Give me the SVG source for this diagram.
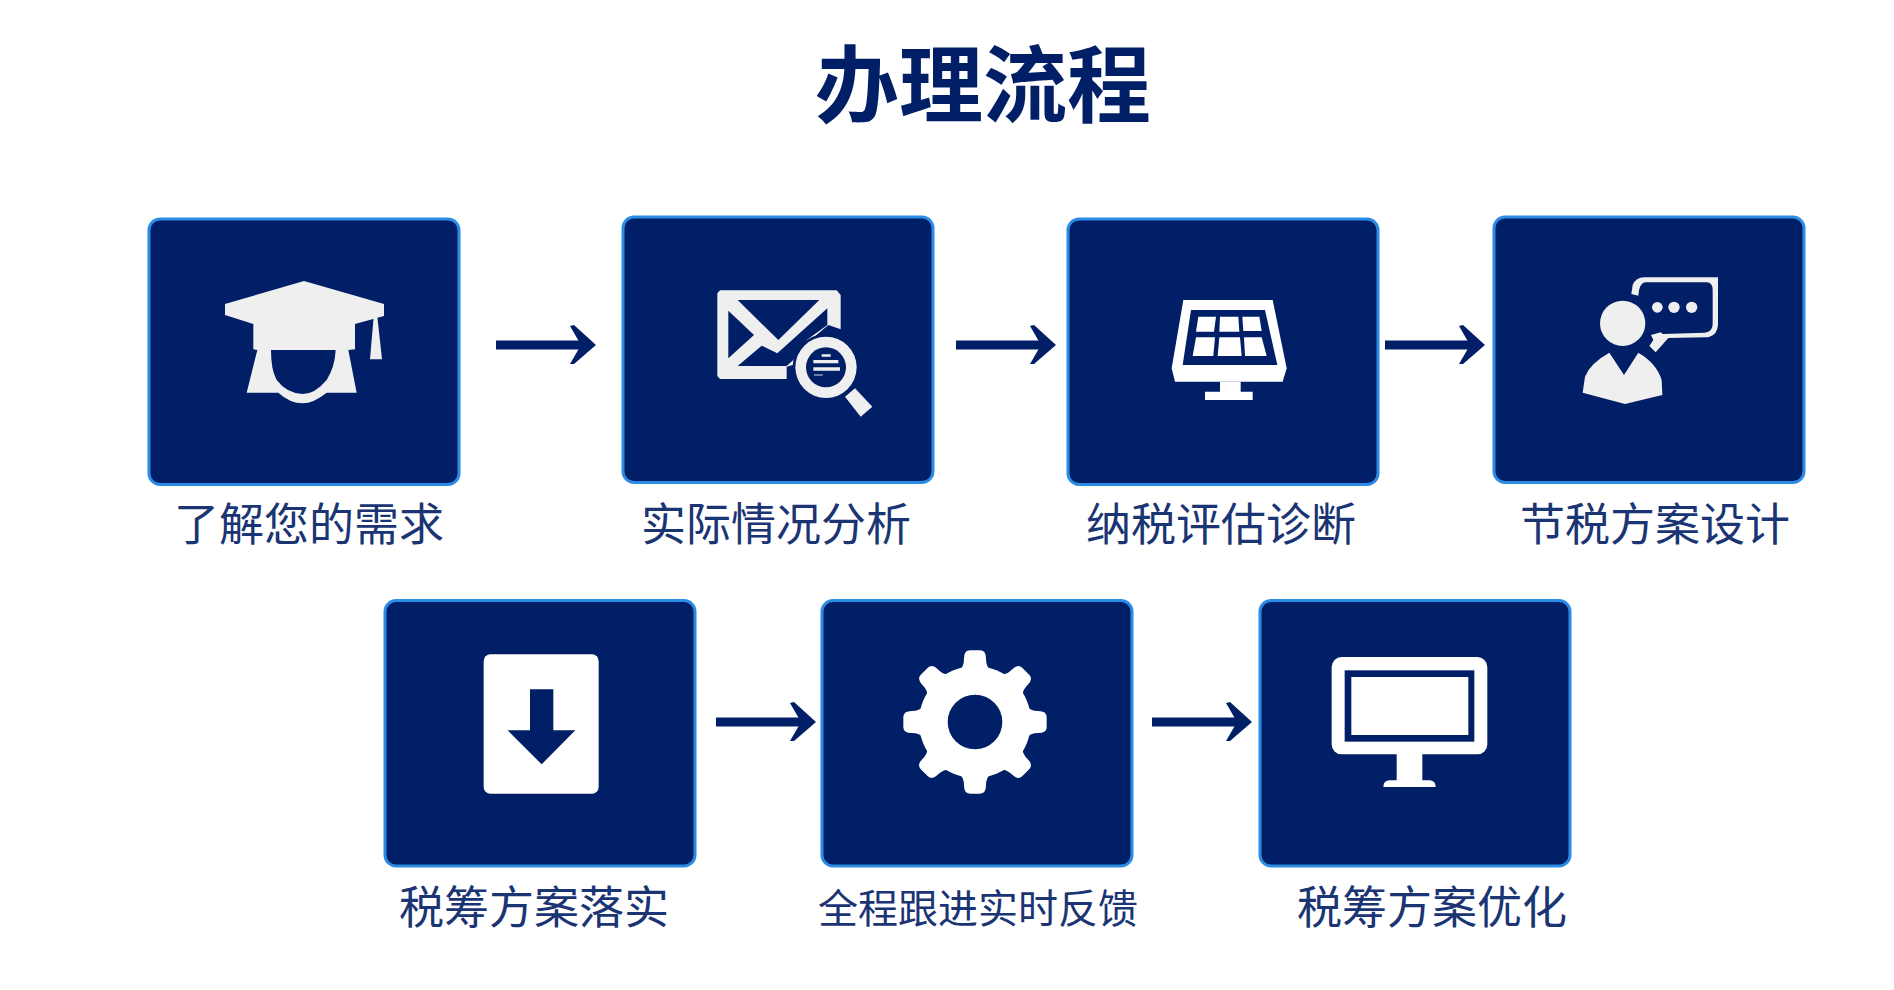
<svg xmlns="http://www.w3.org/2000/svg" width="1894" height="990" viewBox="0 0 1894 990">
<style>
.box{fill:#011f66;stroke:#2b8ce6;stroke-width:3}
.lab{font-family:"Noto Sans CJK SC","Noto Sans",sans-serif;font-size:45px;font-weight:400;fill:#1a3474;text-anchor:middle}
.title{font-family:"Noto Sans CJK SC","Noto Sans",sans-serif;font-size:84px;font-weight:700;fill:#011f66;text-anchor:middle}
.g{fill:#efefef}
.w{fill:#fff}
.n{fill:#011f66}
.conn{stroke:#011f66;stroke-width:9;fill:none;marker-end:url(#arrow)}
</style>
<defs>
<marker id="arrow" markerUnits="userSpaceOnUse" markerWidth="32" markerHeight="44" viewBox="0 0 32 44" refX="20" refY="22" orient="auto">
<path d="M4,3L8,2L30,22L8,41L4,41L15,22Z" fill="#011f66"/>
</marker>
<path id="tooth" d="M-48,-155Q-33,-165 -33,-190Q-33,-215 -15,-215H15Q33,-215 33,-190Q33,-165 48,-155Z" fill="#fff"/>
</defs>
<rect width="1894" height="990" fill="#fff"/>
<text class="title" x="983" y="116">办理流程</text>
<g id="connectors">
<line class="conn" x1="496" y1="345" x2="586" y2="345"/>
<line class="conn" x1="956" y1="345" x2="1046" y2="345"/>
<line class="conn" x1="1385" y1="345" x2="1475" y2="345"/>
<line class="conn" x1="716" y1="722" x2="806" y2="722"/>
<line class="conn" x1="1152" y1="722" x2="1242" y2="722"/>
</g>
<g id="node1">
<rect class="box" x="149" y="219" width="310" height="265.500" rx="11"/>
<g transform="translate(140 200) scale(.33333)">
<path class="g" d="M255,312L492,243L732,312V348L645,372V448L625,450L650,578H560Q520,610 488,610Q450,610 415,578H320L352,450L340,448V372L255,345Z"/>
<path class="n" d="M393,450H587Q585,500 560,540Q525,582 488,582Q440,580 410,540Q393,510 393,450Z"/>
<path class="g" d="M701,350H712L726,478H690Z"/>
</g>
<text class="lab" x="309" y="541">了解您的需求</text>
</g>
<g id="node2">
<rect class="box" x="623" y="217" width="310" height="265.500" rx="11"/>
<g transform="translate(610 200) scale(.33333)">
<path class="g" d="M322,280L330,271H680L692,285V388L655,375L590,430L548,495L530,500V537H330L322,528Z"/>
<path class="n" d="M383,300H628L505,420Z"/>
<path class="n" d="M355,332L432,405L355,475Z"/>
<path class="n" d="M652,325V375L590,420L550,480L530,498H383L455,437L502,460Z"/>
<circle class="n" cx="648" cy="502" r="100"/>
<circle class="g" cx="648" cy="502" r="92"/>
<circle class="n" cx="648" cy="502" r="60"/>
<path class="g" d="M705,590L735,565L787,620L752,650Z"/>
<path class="g" d="M635,463H662V470H635ZM610,480H685V490H610ZM610,502H690V512H610Z"/>
<path d="M612,522H638V528H612Z" fill="#6b7ba6"/>
</g>
<text class="lab" x="776" y="541">实际情况分析</text>
</g>
<g id="node3">
<rect class="box" x="1068" y="219" width="310" height="265.500" rx="11"/>
<g transform="translate(1060 200) scale(.33333)">
<path class="w" d="M370,300H638L680,505L668,545H345L335,505Z"/>
<path class="n" d="M393,330H615L652,495H368Z"/>
<path class="w" d="M415,350H468L462,395H408ZM480,350H535L538,395H478ZM547,350H598L605,393H550ZM408,412H465L460,468H398ZM478,412H540L545,468H473ZM552,412H605L620,468H555Z"/>
<path class="w" d="M480,545H542V575H578V600H435V575H480Z"/>
</g>
<text class="lab" x="1221" y="541">纳税评估诊断</text>
</g>
<g id="node4">
<rect class="box" x="1494" y="217" width="310" height="265.500" rx="11"/>
<g transform="translate(1490 200) scale(.33333)">
<circle class="g" cx="398" cy="370" r="68"/>
<path class="g" d="M278,578L285,530Q300,490 358,458L402,525L445,458Q500,490 515,540L517,585L405,612Z"/>
<path class="g" d="M424,282L428,255Q438,232 462,232H684V375Q680,412 645,412L535,414L497,457L478,438L490,420L483,405L512,397L518,402L645,398Q668,395 668,372V270Q668,248 650,247H465Q447,250 445,287Z"/>
<circle class="g" cx="502" cy="322" r="16"/>
<circle class="g" cx="552" cy="322" r="17"/>
<circle class="g" cx="605" cy="322" r="17"/>
</g>
<text class="lab" x="1655" y="541">节税方案设计</text>
</g>
<g id="node5">
<rect class="box" x="385" y="600.500" width="310" height="265.500" rx="11"/>
<g transform="translate(380 591) scale(.33333)">
<rect class="w" x="311" y="190" width="345" height="418" rx="20"/>
<path class="n" d="M450,295H520V418H586L485,520L383,418H450Z"/>
</g>
<text class="lab" x="534" y="924">税筹方案落实</text>
</g>
<g id="node6">
<rect class="box" x="822" y="600.500" width="310" height="265.500" rx="11"/>
<g transform="translate(810 591) scale(.33333)">
<g transform="translate(495 393)">
<circle class="w" r="168"/>
<use href="#tooth"/>
<use href="#tooth" transform="rotate(45)"/>
<use href="#tooth" transform="rotate(90)"/>
<use href="#tooth" transform="rotate(135)"/>
<use href="#tooth" transform="rotate(180)"/>
<use href="#tooth" transform="rotate(225)"/>
<use href="#tooth" transform="rotate(270)"/>
<use href="#tooth" transform="rotate(315)"/>
<circle class="n" r="82"/>
</g>
</g>
<text class="lab" style="font-size:40px" x="978" y="923">全程跟进实时反馈</text>
</g>
<g id="node7">
<rect class="box" x="1260" y="600.500" width="310" height="265.500" rx="11"/>
<g transform="translate(1250 591) scale(.33333)">
<rect class="w" x="245" y="198" width="467" height="292" rx="30"/>
<rect class="n" x="284" y="238" width="389" height="214"/>
<rect class="w" x="304" y="258" width="351" height="174"/>
<path class="w" d="M440,488H517V568H540Q557,570 557,588H400Q400,570 417,568H440Z"/>
</g>
<text class="lab" x="1432" y="924">税筹方案优化</text>
</g>
</svg>
